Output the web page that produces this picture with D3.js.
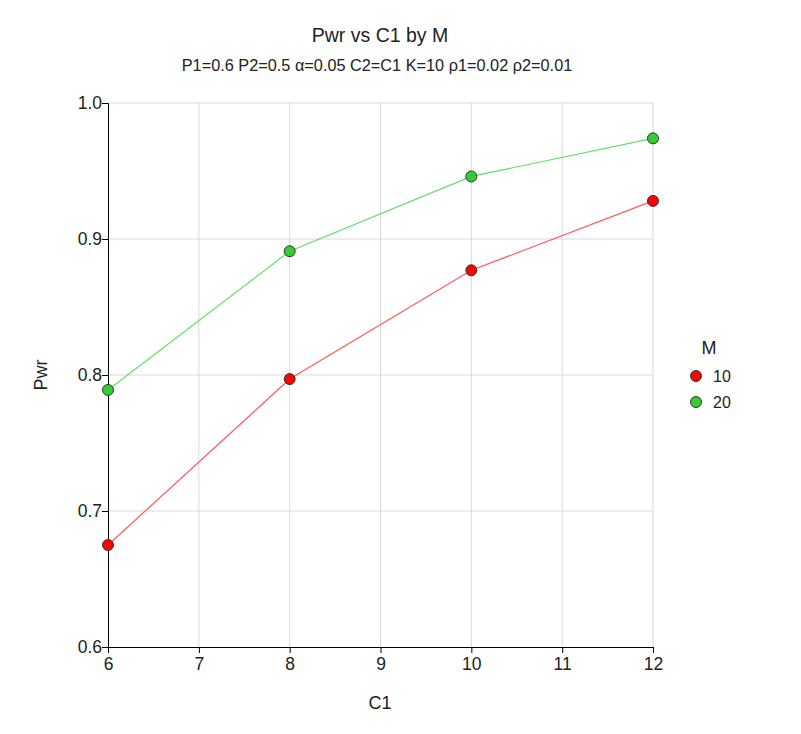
<!DOCTYPE html>
<html>
<head>
<meta charset="utf-8">
<script src="https://cdn.jsdelivr.net/npm/d3@7"></script>
<style>
  body { margin: 0; background: #fff; }
  text { font-family: Arial, "Liberation Sans", sans-serif; fill: #222; }
</style>
</head>
<body>
<div class="canvas"></div>
<script>
const c1Values = [6, 8, 10, 12];
const mLevels = ["10", "20"];
const pwrM10 = [0.675, 0.797, 0.877, 0.928];
const pwrM20 = [0.789, 0.891, 0.946, 0.974];
const xTicks = [6, 7, 8, 9, 10, 11, 12];
const yTicks = [0.6, 0.7, 0.8, 0.9, 1.0];
const colors = ["#ff0000", "#33cc33"];
const lineColors = ["#ff5a5a", "#66dd66"];

const width = 801, height = 734;
const margin = { left: 108, right: 148, top: 103, bottom: 87 };

const svg = d3.select('.canvas')
  .append('svg')
  .attr('width', width)
  .attr('height', height);

const x = d3.scaleLinear().domain([6, 12]).range([margin.left, width - margin.right]);
const y = d3.scaleLinear().domain([0.6, 1.0]).range([height - margin.bottom, margin.top]);

// grid
svg.append("g").selectAll("line")
  .data(xTicks.slice(1))
  .join("line")
    .attr("x1", d => x(d)).attr("x2", d => x(d))
    .attr("y1", y(0.6)).attr("y2", y(1.0))
    .style("stroke", "#d9d9d9");

svg.append("g").selectAll("line")
  .data(yTicks.slice(1))
  .join("line")
    .attr("x1", x(6)).attr("x2", x(12))
    .attr("y1", d => y(d)).attr("y2", d => y(d))
    .style("stroke", "#d9d9d9");

// axes
const xAxis = svg.append("g")
  .attr("transform", `translate(0,${y(0.6)})`)
  .call(d3.axisBottom(x).tickValues(xTicks).tickFormat(d3.format("d")).tickSizeOuter(0).tickSize(6));
const yAxis = svg.append("g")
  .attr("transform", `translate(${x(6)},0)`)
  .call(d3.axisLeft(y).tickValues(yTicks).tickFormat(d3.format(".1f")).tickSizeOuter(0).tickSize(6));

[xAxis, yAxis].forEach(a => {
  a.attr("font-size", 17.5).attr("font-family", "Arial, 'Liberation Sans', sans-serif");
  a.select(".domain").style("stroke", "#000");
  a.selectAll(".tick line").style("stroke", "#000");
  a.selectAll(".tick text").style("fill", "#222");
});
xAxis.selectAll(".tick text").attr("dy", "0.8em");
yAxis.selectAll(".tick text").attr("x", -6);

// series
const series = [pwrM10, pwrM20];
const line = d3.line().x((d, i) => x(c1Values[i])).y(d => y(d));

series.forEach((vals, s) => {
  svg.append("path")
    .datum(vals)
    .attr("d", line)
    .style("fill", "none")
    .style("stroke", lineColors[s])
    .style("stroke-width", 1.2);
});
series.forEach((vals, s) => {
  svg.append("g").selectAll("circle")
    .data(vals)
    .join("circle")
      .attr("cx", (d, i) => x(c1Values[i]))
      .attr("cy", d => y(d))
      .attr("r", 5.5)
      .style("fill", colors[s])
      .style("stroke", "#333")
      .style("stroke-width", 1);
});

// titles
svg.append("text")
  .attr("x", 380).attr("y", 42)
  .attr("text-anchor", "middle")
  .style("font-size", "19.5px")
  .text("Pwr vs C1 by M");
svg.append("text")
  .attr("x", 377).attr("y", 71)
  .attr("text-anchor", "middle")
  .style("font-size", "16.3px")
  .text("P1=0.6 P2=0.5 \u03b1=0.05 C2=C1 K=10 \u03c11=0.02 \u03c12=0.01");

svg.append("text")
  .attr("x", 380).attr("y", 709)
  .attr("text-anchor", "middle")
  .style("font-size", "18px")
  .text("C1");
svg.append("text")
  .attr("transform", "translate(47,375) rotate(-90)")
  .attr("text-anchor", "middle")
  .style("font-size", "18px")
  .text("Pwr");

// legend
const legend = svg.append("g");
legend.append("text")
  .attr("x", 709).attr("y", 354)
  .attr("text-anchor", "middle")
  .style("font-size", "18px")
  .text("M");
mLevels.forEach((m, i) => {
  legend.append("circle")
    .attr("cx", 696).attr("cy", 376 + i * 26)
    .attr("r", 5.5)
    .style("fill", colors[i])
    .style("stroke", "#333");
  legend.append("text")
    .attr("x", 713).attr("y", 381.5 + i * 26)
    .style("font-size", "16px")
    .text(m);
});
</script>
</body>
</html>
